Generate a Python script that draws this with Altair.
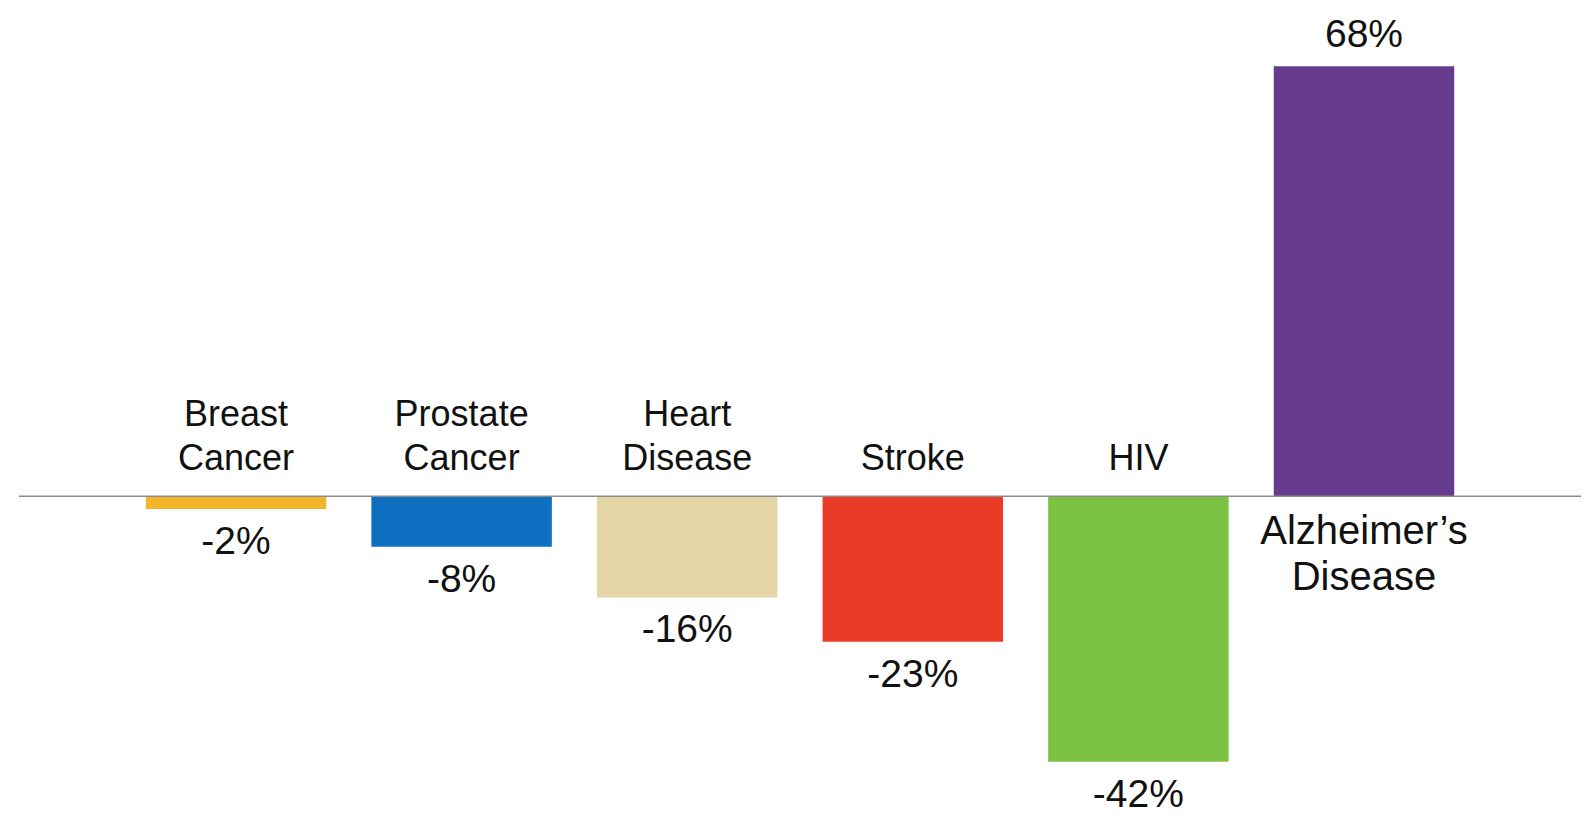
import altair as alt
import pandas as pd

categories = ["Breast Cancer", "Prostate Cancer", "Heart Disease", "Stroke", "HIV", "Alzheimer's Disease"]
line_one = ["Breast", "Prostate", "Heart", "", "", "Alzheimer\u2019s"]
line_two = ["Cancer", "Cancer", "Disease", "Stroke", "HIV", "Disease"]
values = [-2, -8, -16, -23, -42, 68]
colors = ["#F3B52A", "#0E6FC1", "#E5D6A8", "#EA3A28", "#7CC242", "#663A8D"]

df = pd.DataFrame({
    "category": categories,
    "l1": line_one,
    "l2": line_two,
    "value": values,
    "color": colors,
    "vlabel": [f"{v}%" for v in values],
})

FONT = "Liberation Sans"
TXT = "#111111"
xenc = alt.X("category:N", sort=categories,
             scale=alt.Scale(paddingInner=0.2, paddingOuter=0.562), axis=None)
yscale = alt.Scale(domain=[-50.4, 77.2], nice=False, zero=False)

base = alt.Chart(df)
neg = base.transform_filter("datum.value < 0")
pos = base.transform_filter("datum.value > 0")

bars = base.mark_bar().encode(
    x=xenc,
    y=alt.Y("value:Q", scale=yscale, axis=None),
    color=alt.Color("color:N", scale=None, legend=None),
)

zero_line = base.transform_filter("datum.category == 'HIV'").mark_rule(
    color="#8C8C8C", strokeWidth=1.5
).encode(y=alt.datum(0))

def txt(src, field, size, dy):
    return src.mark_text(font=FONT, fontSize=size, baseline="alphabetic",
                         align="center", dy=dy, color=TXT).encode(
        x=xenc, y=alt.datum(0), text=f"{field}:N")

neg_l1 = txt(neg, "l1", 36, -70)
neg_l2 = txt(neg, "l2", 36, -26)
pos_l1 = txt(pos, "l1", 40, 48)
pos_l2 = txt(pos, "l2", 40, 94)

neg_vals = neg.mark_text(
    font=FONT, fontSize=39, baseline="alphabetic", align="center", dy=45, color=TXT
).encode(x=xenc, y=alt.Y("value:Q", scale=yscale), text="vlabel:N")

pos_vals = pos.mark_text(
    font=FONT, fontSize=39, baseline="alphabetic", align="center", dy=-19, color=TXT
).encode(x=xenc, y=alt.Y("value:Q", scale=yscale), text="vlabel:N")

chart = alt.layer(bars, zero_line, neg_l1, neg_l2, pos_l1, pos_l2, neg_vals, pos_vals).properties(
    width=1562, height=807,
    padding={"left": 11, "top": 0, "right": 0, "bottom": 0},
    autosize=alt.AutoSizeParams(type="none"),
    background="white",
).configure_view(stroke=None)

chart.save("out.html", embed_options={"renderer": "svg", "actions": False})
